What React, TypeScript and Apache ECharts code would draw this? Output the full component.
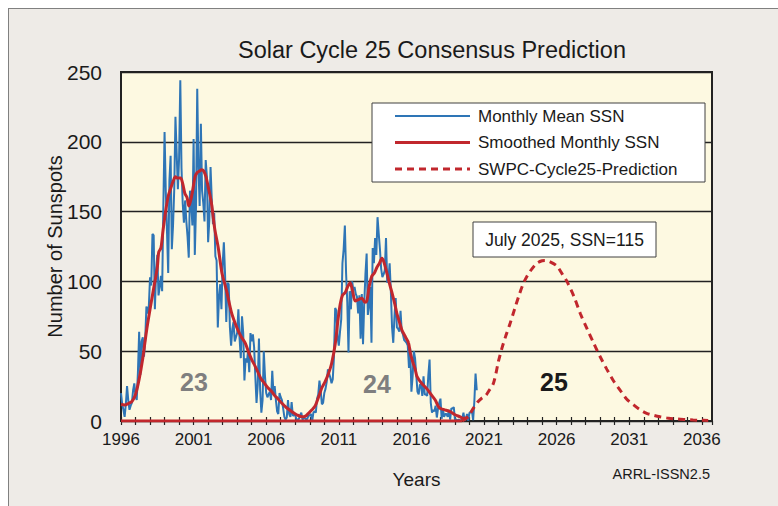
import React, { useEffect, useRef } from "react";
import * as echarts from "echarts";

const FONT = '"Liberation Sans", Arial, Helvetica, sans-serif';

// Monthly mean SSN, one value per month; first value plotted at chart year 1996.0
const monthlyStartYear = 1996;
const monthlySSN: number[] = [
  // 1996 (Jun-Dec)
  20, 12, 8, 3, 12, 25, 15,
  // 1997
  8, 11, 13, 22, 27, 18, 15, 35, 64, 33, 57, 60,
  // 1998
  46, 58, 82, 77, 82, 103, 97, 134, 133, 80, 107, 119,
  // 1999
  90, 96, 104, 93, 154, 207, 165, 136, 106, 172, 190, 123,
  // 2000
  140, 166, 218, 192, 166, 188, 244, 181, 156, 142, 158, 143,
  // 2001
  132, 117, 165, 156, 140, 202, 119, 154, 238, 182, 154, 213,
  // 2002
  165, 156, 143, 187, 175, 128, 144, 182, 159, 141, 149, 118,
  // 2003
  115, 67, 89, 98, 80, 112, 128, 105, 71, 99, 98, 67,
  // 2004
  54, 66, 71, 57, 60, 63, 80, 59, 45, 75, 63, 29,
  // 2005
  45, 42, 50, 35, 63, 57, 62, 53, 32, 13, 26, 59,
  // 2006
  22, 6, 15, 50, 32, 20, 17, 19, 21, 15, 36, 20,
  // 2007
  25, 15, 7, 5, 20, 17, 15, 9, 3, 1, 2.5, 15,
  // 2008
  5, 3, 13.5, 4, 4, 4.5, 1, 1, 1.5, 4, 6, 1,
  // 2009
  2, 2, 1, 1.7, 4, 4, 5, 0, 6, 7, 6, 16,
  // 2010
  19, 29, 22, 12, 13, 20, 23, 28, 37, 34, 31, 27,
  // 2011
  30, 46, 81, 79, 60, 54, 64, 73, 113, 123, 140, 106,
  // 2012
  85, 49, 93, 80, 100, 94, 96, 91, 89, 77, 90, 59,
  // 2013
  91, 55, 84, 105, 120, 76, 83, 96, 56, 124, 113, 131,
  // 2014
  119, 146, 134, 123, 109, 103, 105, 108, 131, 99, 102, 113,
  // 2015
  93, 67, 56, 75, 88, 67, 66, 64, 79, 64, 62, 58,
  // 2016
  57, 56, 54, 38, 52, 21, 32, 50, 45, 33, 21, 19,
  // 2017
  26, 26, 18, 32, 19, 19, 18, 33, 44, 13, 6, 8,
  // 2018
  7, 11, 2.5, 9, 13, 16, 1.6, 9, 3, 5, 5, 3,
  // 2019
  8, 1, 9, 9, 10, 1, 1, 0.5, 1, 0.4, 0.5, 1.5,
  // 2020
  6, 0.2, 1.5, 5, 0.2, 6, 6, 7.5, 0.6, 14, 34, 22,
];

// Smoothed monthly SSN
const smoothYears: number[] = [
  1996.0, 1996.25, 1996.5, 1996.75, 1997.0, 1997.25, 1997.5, 1997.75, 1998.0, 1998.25,
  1998.5, 1998.6, 1998.75, 1998.9, 1999.1, 1999.25, 1999.4, 1999.6, 1999.75, 1999.9,
  2000.1, 2000.25, 2000.4, 2000.55, 2000.67, 2000.8, 2000.95, 2001.1, 2001.25, 2001.4,
  2001.55, 2001.7, 2001.85, 2002.0, 2002.23, 2002.45, 2002.7, 2002.95, 2003.15, 2003.3,
  2003.6, 2003.86, 2004.1, 2004.3, 2004.55, 2004.8, 2005.0, 2005.25, 2005.47, 2005.65,
  2005.81, 2006.1, 2006.39, 2006.6, 2006.8, 2007.08, 2007.4, 2007.77, 2008.1, 2008.46,
  2008.7, 2008.91, 2009.15, 2009.38, 2009.6, 2009.84, 2010.05, 2010.29, 2010.5, 2010.75,
  2010.95, 2011.1, 2011.25, 2011.44, 2011.6, 2011.78, 2011.95, 2012.13, 2012.35, 2012.59,
  2012.8, 2012.93, 2013.1, 2013.28, 2013.45, 2013.62, 2013.8, 2013.97, 2014.1, 2014.31,
  2014.5, 2014.66, 2014.85, 2015.0, 2015.2, 2015.35, 2015.6, 2015.8, 2015.92, 2016.1,
  2016.26, 2016.38, 2016.7, 2017.07, 2017.35, 2017.64, 2017.85, 2017.98, 2018.3, 2018.67,
  2019.0, 2019.36, 2019.55, 2019.71, 2019.9,
];
const smoothValues: number[] = [
  12, 11.5, 12.5, 14, 19, 30, 45, 64, 80, 95,
  110, 121, 124, 137, 152, 161, 166, 172, 175, 174,
  174, 170, 163, 160, 154, 158, 166, 175, 178, 179,
  180, 179, 175, 168, 156, 138, 124, 106, 98, 92,
  78, 70, 64, 60, 56, 49, 44, 39, 34, 30,
  28, 24, 21, 18, 16, 12.7, 9.5, 6.7, 4.5, 3,
  3.5, 5.5, 8, 11, 17, 24, 28, 34, 41, 55,
  73, 84, 90, 92, 96, 99, 93, 86, 87, 88,
  85, 86, 97, 104, 106, 110, 113, 116.5, 114, 106,
  98, 92, 84, 77, 70, 65, 60, 56, 49, 42,
  37, 32, 27, 23, 19, 15, 10.5, 9, 8, 6.7,
  4.5, 3, 2, 2, 3,
];

// SWPC Cycle 25 prediction (dashed)
const predBaseYears: number[] = [1996, 2019.5];
const predBaseValues: number[] = [0, 0];
const predYears: number[] = [
  2019.5, 2019.9, 2020.26, 2020.6, 2020.86, 2021.1, 2021.3, 2021.65, 2022.0, 2022.23,
  2022.5, 2022.8, 2023.1, 2023.38, 2023.65, 2023.95, 2024.3, 2024.64, 2025.0, 2025.21,
  2025.55, 2026.02, 2026.4, 2026.71, 2027.2, 2027.63, 2028.1, 2028.54, 2029.0, 2029.46,
  2029.9, 2030.38, 2030.8, 2031.3, 2031.75, 2032.2, 2032.7, 2033.13, 2033.7, 2034.3,
  2034.9, 2035.4, 2035.9, 2036.44,
];
const predValues: number[] = [
  0, 3, 9, 14, 16.5, 18, 21, 27, 43, 52,
  61, 70, 80, 89, 97, 103.5, 109, 113, 114.8, 115,
  114, 111, 105, 100, 89, 77, 66, 56, 46, 37,
  29, 22, 16, 11.5, 8, 5.5, 4, 3, 2, 1.4,
  1, 0.7, 0.5, 0.4,
];

const xMin = 1996;
const xMax = 2036.7;
const yTicks = [0, 50, 100, 150, 200, 250];

const legendItems = [
  { label: "Monthly Mean SSN", color: "#2E75B6", width: 2, dash: null as number[] | null },
  { label: "Smoothed Monthly SSN", color: "#C1272D", width: 3, dash: null as number[] | null },
  { label: "SWPC-Cycle25-Prediction", color: "#C1272D", width: 3, dash: [7, 5] },
];

const cycleLabels = [
  { text: "23", x: 194, y: 382, color: "#7f7f7f" },
  { text: "24", x: 377, y: 384, color: "#7f7f7f" },
  { text: "25", x: 554, y: 382, color: "#1a1a1a" },
];

export default function App() {
  const ref = useRef<HTMLDivElement>(null);

  useEffect(() => {
    if (!ref.current) return;
    const chart = echarts.init(ref.current, undefined, { renderer: "svg" });

    const monthlyData = monthlySSN.map((v, i) => [monthlyStartYear + i / 12, v]);
    const smoothData = smoothYears.map((y, i) => [y, smoothValues[i]]);
    const predData = predYears.map((y, i) => [y, predValues[i]]);
    const predBase = predBaseYears.map((y, i) => [y, predBaseValues[i]]);

    const legendGraphics: any[] = [
      {
        type: "rect",
        shape: { x: 372, y: 103, width: 333, height: 79 },
        style: { fill: "#ffffff", stroke: "#404040", lineWidth: 1 },
        z: 100,
      },
    ];
    legendItems.forEach((it, i) => {
      const y = 116 + i * 26.5;
      legendGraphics.push({
        type: "line",
        shape: { x1: 395, y1: y, x2: 470, y2: y },
        style: { stroke: it.color, lineWidth: it.width, lineDash: it.dash || undefined },
        z: 101,
      });
      legendGraphics.push({
        type: "text",
        style: {
          text: it.label,
          x: 478,
          y,
          fontSize: 17,
          fontFamily: FONT,
          fill: "#1a1a1a",
          textAlign: "left",
          textVerticalAlign: "middle",
        },
        z: 101,
      });
    });

    const option: any = {
      animation: false,
      backgroundColor: "transparent",
      title: {
        text: "Solar Cycle 25 Consensus Prediction",
        left: 238,
        top: 38,
        padding: 0,
        textStyle: { fontSize: 23.5, fontWeight: "normal", color: "#1a1a1a", fontFamily: FONT },
      },
      grid: {
        left: 121,
        top: 72,
        right: 66,
        bottom: 85,
        show: true,
        backgroundColor: "#FDF9E1",
        borderColor: "#222222",
        borderWidth: 2,
      },
      xAxis: [
        {
          type: "value",
          min: xMin,
          max: xMax,
          interval: 1,
          position: "bottom",
          name: "Years",
          nameLocation: "middle",
          nameGap: 49,
          nameMoveOverlap: false,
          nameTextStyle: { fontSize: 19, color: "#1a1a1a", fontFamily: FONT },
          axisLine: { show: true, lineStyle: { color: "#222222", width: 2 } },
          axisTick: { show: true, inside: true, length: 4, lineStyle: { color: "#222222", width: 1.2 } },
          axisLabel: {
            fontSize: 17,
            color: "#1a1a1a",
            fontFamily: FONT,
            margin: 10,
            showMaxLabel: false,
            formatter: (v: number) => {
              const r = Math.round(v);
              if (Math.abs(v - r) > 1e-6) return "";
              return (r - xMin) % 5 === 0 ? String(r) : "";
            },
          },
          splitLine: { show: false },
        },
        {
          type: "value",
          min: xMin,
          max: xMax,
          interval: 1,
          position: "bottom",
          axisLine: { show: false },
          axisTick: { show: true, inside: false, length: 4, lineStyle: { color: "#222222", width: 1.2 } },
          axisLabel: { show: false },
          splitLine: { show: false },
        },
      ],
      yAxis: {
        type: "value",
        min: yTicks[0],
        max: yTicks[yTicks.length - 1],
        interval: 50,
        name: "Number of Sunspots",
        nameLocation: "middle",
        nameGap: 56,
        nameMoveOverlap: false,
        nameTextStyle: { fontSize: 20, color: "#1a1a1a", fontFamily: FONT },
        axisLine: { show: false },
        axisTick: { show: false },
        axisLabel: { fontSize: 21, color: "#1a1a1a", fontFamily: FONT, margin: 19 },
        splitLine: { show: true, lineStyle: { color: "#222222", width: 1.3 } },
      },
      series: [
        {
          name: "Monthly Mean SSN",
          type: "line",
          data: monthlyData,
          showSymbol: false,
          symbol: "none",
          lineStyle: { color: "#2E75B6", width: 2 },
          z: 2,
        },
        {
          name: "Smoothed Monthly SSN",
          type: "line",
          data: smoothData,
          showSymbol: false,
          symbol: "none",
          smooth: 0.3,
          lineStyle: { color: "#C1272D", width: 3 },
          z: 3,
        },
        {
          name: "SWPC-Cycle25-Prediction",
          type: "line",
          data: predData,
          showSymbol: false,
          symbol: "none",
          smooth: 0.3,
          lineStyle: { color: "#C1272D", width: 3, type: [7, 5] },
          z: 4,
        },
        {
          name: "Prediction baseline",
          type: "line",
          data: predBase,
          showSymbol: false,
          symbol: "none",
          lineStyle: { color: "#C1272D", width: 3 },
          z: 4,
        },
      ],
      graphic: [
        ...legendGraphics,
        {
          type: "rect",
          shape: { x: 473, y: 222, width: 183, height: 35 },
          style: { fill: "#ffffff", stroke: "#404040", lineWidth: 1 },
          z: 100,
        },
        {
          type: "text",
          style: {
            text: "July 2025, SSN=115",
            x: 564.5,
            y: 240,
            fontSize: 17.5,
            fontFamily: FONT,
            fill: "#1a1a1a",
            textAlign: "center",
            textVerticalAlign: "middle",
          },
          z: 101,
        },
        ...cycleLabels.map((c) => ({
          type: "text",
          style: {
            text: c.text,
            x: c.x,
            y: c.y,
            fontSize: 25,
            fontWeight: "bold",
            fontFamily: FONT,
            fill: c.color,
            textAlign: "center",
            textVerticalAlign: "middle",
          },
          z: 100,
        })),
        {
          type: "text",
          style: {
            text: "ARRL-ISSN2.5",
            x: 710,
            y: 474,
            fontSize: 14.5,
            fontFamily: FONT,
            fill: "#1a1a1a",
            textAlign: "right",
            textVerticalAlign: "middle",
          },
          z: 100,
        },
      ],
    };

    chart.setOption(option);
    return () => chart.dispose();
  }, []);

  return (
    <div style={{ position: "fixed", left: 0, top: 0, width: 778, height: 506, background: "#ffffff", overflow: "hidden" }}>
      <div
        style={{
          position: "absolute",
          left: 8,
          top: 8,
          width: 800,
          height: 520,
          background: "#EEEBE7",
          border: "1.5px solid #808080",
          boxSizing: "border-box",
        }}
      />
      <div ref={ref} style={{ position: "absolute", left: 0, top: 0, width: 778, height: 506 }} />
    </div>
  );
}
